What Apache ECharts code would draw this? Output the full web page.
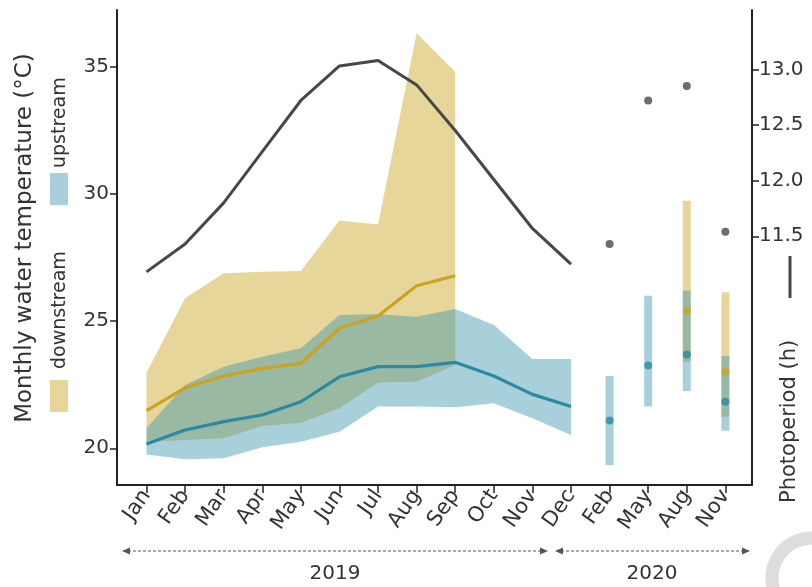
<!DOCTYPE html>
<html><head><meta charset="utf-8">
<script src="https://cdn.jsdelivr.net/npm/echarts@6/dist/echarts.min.js"></script>
<style>html,body{margin:0;padding:0;background:#fff}#c{width:812px;height:587px}</style>
</head><body><div id="c"></div>
<script>
// ---- data ----
const tickLabels = ['Jan','Feb','Mar','Apr','May','Jun','Jul','Aug','Sep','Oct','Nov','Dec','Feb','May','Aug','Nov'];
const years = ['2019', '2020'];
// positions (category index) of the monthly 2019 series and 2020 samples
const x2019 = [0,1,2,3,4,5,6,7,8,9,10,11];
const x2019down = [0,1,2,3,4,5,6,7,8];
const x2020 = [12,13,14,15];

const photoperiod2019 = [11.18, 11.43, 11.80, 12.26, 12.72, 13.03, 13.08, 12.86, 12.45, 12.01, 11.57, 11.25];
const photoperiod2020 = [11.43, 12.72, 12.85, 11.54];

const downMean2019 = [21.48, 22.38, 22.84, 23.14, 23.34, 24.72, 25.20, 26.39, 26.78];
const downMax2019  = [22.97, 25.90, 26.88, 26.94, 26.97, 28.95, 28.80, 36.32, 34.79];
const downMin2019  = [20.25, 20.33, 20.39, 20.88, 21.00, 21.57, 22.59, 22.62, 23.27];

const upMean2019 = [20.17, 20.72, 21.05, 21.31, 21.83, 22.81, 23.21, 23.21, 23.38, 22.84, 22.12, 21.64];
const upMax2019  = [20.79, 22.49, 23.21, 23.60, 23.93, 25.24, 25.27, 25.17, 25.48, 24.85, 23.51, 23.51];
const upMin2019  = [19.76, 19.57, 19.61, 20.04, 20.26, 20.65, 21.64, 21.64, 21.61, 21.77, 21.18, 20.52];

const upMean2020 = [21.09, 23.25, 23.69, 21.83];
const upMax2020  = [22.84, 26.00, 26.20, 23.63];
const upMin2020  = [19.34, 21.64, 22.25, 20.69];
const downMean2020 = [null, null, 25.42, 23.01];
const downMax2020  = [null, null, 29.73, 26.13];
const downMin2020  = [null, null, 23.40, 21.24];

const tempTicks = [20, 25, 30, 35];
const photoTicks = [11.5, 12.0, 12.5, 13.0];

// ---- style ----
const FONT = 'DejaVu Sans';
const TXT = '#333333';
const AXIS = '#222222';
const GOLD_BAND = '#e6d699';
const BLUE_BAND = 'rgba(62,151,173,0.45)';
const GOLD_LINE = '#cca21f';
const TEAL_LINE = '#2a8aa3';
const DARK = '#474747';

function bandSeries(xs, lo, hi, color, z) {
  return {
    type: 'custom', yAxisIndex: 0, z: z, silent: true,
    data: xs.map((x, i) => [x, lo[i], hi[i]]),
    encode: { x: 0, y: [1, 2] },
    renderItem: function (params, api) {
      if (params.dataIndex !== 0) return null;
      const pts = [];
      for (let i = 0; i < xs.length; i++) pts.push(api.coord([xs[i], hi[i]]));
      for (let i = xs.length - 1; i >= 0; i--) pts.push(api.coord([xs[i], lo[i]]));
      return { type: 'polygon', shape: { points: pts }, style: { fill: color } };
    }
  };
}
function barSeries(xs, lo, hi, color, z) {
  const rows = [];
  xs.forEach((x, i) => { if (lo[i] != null) rows.push([x, lo[i], hi[i]]); });
  return {
    type: 'custom', yAxisIndex: 0, z: z, silent: true,
    data: rows, encode: { x: 0, y: [1, 2] },
    renderItem: function (params, api) {
      const top = api.coord([api.value(0), api.value(2)]);
      const bot = api.coord([api.value(0), api.value(1)]);
      return { type: 'rect', shape: { x: top[0] - 4, y: top[1], width: 8, height: bot[1] - top[1] }, style: { fill: color } };
    }
  };
}
function pairs(xs, ys) {
  const out = [];
  xs.forEach((x, i) => { if (ys[i] != null) out.push([x, ys[i]]); });
  return out;
}

const chart = echarts.init(document.getElementById('c'), null, { renderer: 'canvas' });

const arrowY = 551;
function arrow(x1, x2) {
  return [
    { type: 'line', shape: { x1: x1 + 6, y1: arrowY, x2: x2 - 6, y2: arrowY }, style: { stroke: '#555', lineWidth: 1.2, lineDash: [3, 2] } },
    { type: 'polygon', shape: { points: [[x1, arrowY], [x1 + 8, arrowY - 3.5], [x1 + 8, arrowY + 3.5]] }, style: { fill: '#555' } },
    { type: 'polygon', shape: { points: [[x2, arrowY], [x2 - 8, arrowY - 3.5], [x2 - 8, arrowY + 3.5]] }, style: { fill: '#555' } }
  ];
}

chart.setOption({
  animation: false,
  backgroundColor: '#ffffff',
  grid: { left: 117, right: 60, top: 10, bottom: 102, containLabel: false },
  xAxis: {
    type: 'value', min: -0.764, max: 15.69,
    axisLine: { show: true, onZero: false, lineStyle: { color: AXIS, width: 2 } },
    axisTick: { show: true, customValues: tickLabels.map((_, i) => i), length: 8, lineStyle: { color: AXIS, width: 1.5 } },
    axisLabel: {
      customValues: tickLabels.map((_, i) => i),
      formatter: v => tickLabels[Math.round(v)],
      rotate: 55, margin: 7, fontSize: 21, color: TXT, fontFamily: FONT
    },
    splitLine: { show: false }
  },
  yAxis: [
    {
      type: 'value', position: 'left', min: 18.557, max: 37.23,
      axisLine: { show: true, onZero: false, lineStyle: { color: AXIS, width: 2 } },
      axisTick: { show: true, customValues: tempTicks, length: 7, lineStyle: { color: AXIS, width: 1.5 } },
      axisLabel: { customValues: tempTicks, fontSize: 20, color: TXT, fontFamily: FONT, margin: 8 },
      splitLine: { show: false }
    },
    {
      type: 'value', position: 'right', min: 9.265, max: 13.533,
      axisLine: { show: true, onZero: false, lineStyle: { color: AXIS, width: 2 } },
      axisTick: { show: true, customValues: photoTicks, length: 7, lineStyle: { color: AXIS, width: 1.5 } },
      axisLabel: { customValues: photoTicks, formatter: v => v.toFixed(1), fontSize: 20, color: TXT, fontFamily: FONT, margin: 7 },
      splitLine: { show: false }
    }
  ],
  series: [
    bandSeries(x2019down, downMin2019, downMax2019, GOLD_BAND, 1),
    barSeries(x2020, downMin2020, downMax2020, GOLD_BAND, 1),
    bandSeries(x2019, upMin2019, upMax2019, BLUE_BAND, 2),
    barSeries(x2020, upMin2020, upMax2020, BLUE_BAND, 2),
    { type: 'line', yAxisIndex: 0, z: 5, data: pairs(x2019down, downMean2019), showSymbol: false, lineStyle: { color: GOLD_LINE, width: 3.2 } },
    { type: 'line', yAxisIndex: 0, z: 5, data: pairs(x2019, upMean2019), showSymbol: false, lineStyle: { color: TEAL_LINE, width: 3.2 } },
    { type: 'scatter', yAxisIndex: 0, z: 6, data: pairs(x2020, downMean2020), symbolSize: 8, itemStyle: { color: GOLD_LINE } },
    { type: 'scatter', yAxisIndex: 0, z: 6, data: pairs(x2020, upMean2020), symbolSize: 8, itemStyle: { color: TEAL_LINE } },
    { type: 'line', yAxisIndex: 1, z: 7, data: pairs(x2019, photoperiod2019), showSymbol: false, lineStyle: { color: DARK, width: 3 } },
    { type: 'scatter', yAxisIndex: 1, z: 7, data: pairs(x2020, photoperiod2020), symbolSize: 8, itemStyle: { color: DARK } }
  ],
  graphic: [
    { type: 'text', x: 25, y: 238, rotation: Math.PI / 2, style: { text: 'Monthly water temperature (°C)', font: '23px "DejaVu Sans"', fill: TXT, align: 'center', verticalAlign: 'middle' } },
    { type: 'rect', shape: { x: 50, y: 380, width: 18, height: 32 }, style: { fill: GOLD_BAND } },
    { type: 'text', x: 60, y: 369, rotation: Math.PI / 2, style: { text: 'downstream', font: '19px "DejaVu Sans"', fill: TXT, align: 'left', verticalAlign: 'middle' } },
    { type: 'rect', shape: { x: 50, y: 173, width: 18, height: 32 }, style: { fill: '#a8d0da' } },
    { type: 'text', x: 60, y: 168, rotation: Math.PI / 2, style: { text: 'upstream', font: '19px "DejaVu Sans"', fill: TXT, align: 'left', verticalAlign: 'middle' } },
    { type: 'text', x: 790, y: 503, rotation: Math.PI / 2, style: { text: 'Photoperiod (h)', font: '21px "DejaVu Sans"', fill: TXT, align: 'left', verticalAlign: 'middle' } },
    { type: 'line', shape: { x1: 790, y1: 256, x2: 790, y2: 298 }, style: { stroke: DARK, lineWidth: 3 } },
    ...arrow(122, 548),
    ...arrow(555, 750),
    { type: 'text', x: 335, y: 574, style: { text: years[0], font: '20px "DejaVu Sans"', fill: TXT, align: 'center', verticalAlign: 'middle' } },
    { type: 'text', x: 652, y: 574, style: { text: years[1], font: '20px "DejaVu Sans"', fill: TXT, align: 'center', verticalAlign: 'middle' } },
    { type: 'arc', shape: { cx: 812, cy: 578, r: 40, startAngle: Math.PI * 0.9, endAngle: Math.PI * 1.6 }, style: { stroke: '#dddddd', lineWidth: 13, fill: null } }
  ]
});
</script></body></html>
